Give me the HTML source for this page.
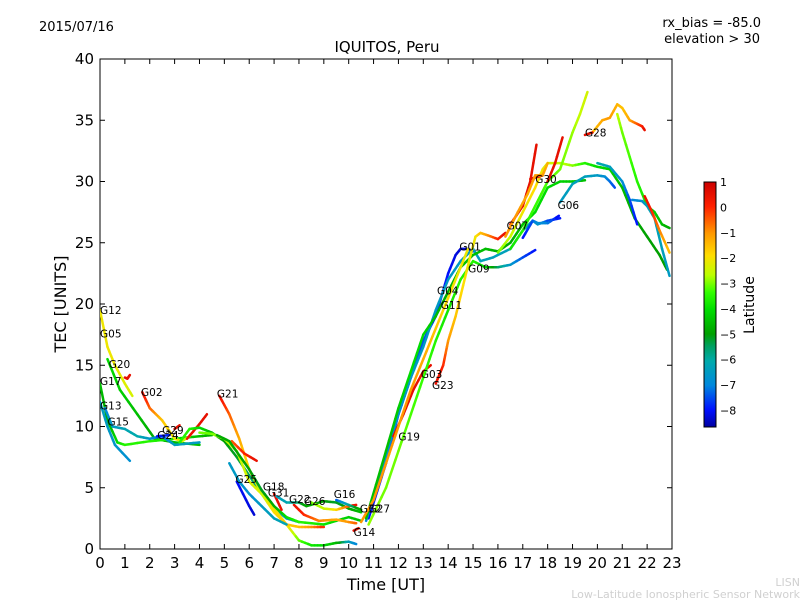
<!DOCTYPE html>
<html><head><meta charset="utf-8">
<style>
body{margin:0;background:#fff;}
svg{display:block;font-family:"DejaVu Sans","Liberation Sans",sans-serif;}
</style></head>
<body>
<svg id="chart" width="800" height="600" viewBox="0 0 800 600">
<defs>
<linearGradient id="cbgrad" x1="0" y1="1" x2="0" y2="0">
<stop offset="0" stop-color="#0000a0"/>
<stop offset="0.07" stop-color="#0010ff"/>
<stop offset="0.17" stop-color="#0088dd"/>
<stop offset="0.27" stop-color="#00aaaa"/>
<stop offset="0.33" stop-color="#00a060"/>
<stop offset="0.38" stop-color="#00a000"/>
<stop offset="0.48" stop-color="#00dd00"/>
<stop offset="0.55" stop-color="#33ff00"/>
<stop offset="0.62" stop-color="#bbff00"/>
<stop offset="0.70" stop-color="#ffdd00"/>
<stop offset="0.79" stop-color="#ff9900"/>
<stop offset="0.90" stop-color="#ff2000"/>
<stop offset="1" stop-color="#cc0000"/>
</linearGradient>
<clipPath id="plotclip"><rect x="100" y="59" width="572" height="490"/></clipPath>
</defs>
<text x="39" y="31" font-size="13">2015/07/16</text>
<text x="761" y="27" font-size="13" text-anchor="end">rx_bias = -85.0</text>
<text x="760" y="43" font-size="13" text-anchor="end">elevation &gt; 30</text>
<text x="387" y="52" font-size="15" text-anchor="middle">IQUITOS, Peru</text>
<rect x="100" y="59" width="572" height="490" fill="#fff" stroke="#000" stroke-width="1"/>
<g id="marks" clip-path="url(#plotclip)"></g>
<g id="labels"></g>
<g id="axes"></g>
<text x="386" y="590" font-size="16" text-anchor="middle">Time [UT]</text>
<text x="66" y="304" font-size="16" text-anchor="middle" transform="rotate(-90 66 304)">TEC [UNITS]</text>
<rect x="704" y="182" width="12" height="245" fill="url(#cbgrad)" stroke="#000" stroke-width="1"/>
<g id="cbticks"></g>
<text x="754" y="305" font-size="14" text-anchor="middle" transform="rotate(-90 754 305)">Latitude</text>
<text x="800" y="586" font-size="11" fill="#d0d0d0" text-anchor="end">LISN</text>
<text x="800" y="598" font-size="11" fill="#d0d0d0" text-anchor="end">Low-Latitude Ionospheric Sensor Network</text>
</svg>
<script>
const xTicks=[0,1,2,3,4,5,6,7,8,9,10,11,12,13,14,15,16,17,18,19,20,21,22,23];
const yTicks=[0,5,10,15,20,25,30,35,40];
const cbTicks=[1,0,-1,-2,-3,-4,-5,-6,-7,-8];
const seriesTimes=[
[0,0.3,0.6,1,1.3],
[0.3,0.8,1.5,2.2,3,4],
[1,1.1,1.2],
[0,0.3,0.7,1,2,3,4,4.5],
[0,0.3,0.6,1.2],
[0.2,0.5,1,1.5,2,2.5,3,3.5,4],
[1.7,2,2.5,3,3.3,3.6],
[2.3,2.8],
[3,3.2],
[3.5,4,4.3],
[3.2,3.6,4,4.5,5,5.5,6,6.5,7,7.5,8],
[4,4.5,5,5.5,6,6.5,7,7.5,8,8.5,9,9.5,10,10.3],
[4.8,5.2,5.6,6,6.5,7,7.5,8,8.5,9],
[5.3,5.8,6.3],
[4.7,5.2,6,6.5,7,7.5,8,9,10,10.5],
[5.5,6,6.2],
[5.2,5.6,6,6.5,7,7.5],
[7,7.3],
[7.1,7.5,8,8.3,9,9.5,10,10.5],
[7.8,8.2,8.8,9.5,10,10.3],
[8.5,9,9.5,10,10.3],
[9.5,10,10.5],
[10.2,10.4],
[10.8,11.5,12,12.5,13,13.5,14,14.3,14.5,14.8,15],
[10.7,11.5,12,12.5,13,13.5,14,14.5,15,15.3,15.8,16.5,17,17.4,17.6,18,18.5],
[10.7,11.5,12,12.5,13,13.5,14,14.5,15,15.5,16,16.5,17,17.5,18,18.5,19,19.5],
[11.8,12.2,12.6,13,13.3],
[10.5,11,11.5,12,12.5,13,13.5,14,14.5,14.8],
[10.8,11.5,12,12.5,13,13.5,14,14.5,15,15.5,16,16.5,17,17.5],
[13.5,13.8,14,14.3,14.6,14.9,15.1,15.3,15.6,16,16.3],
[16,16.5,17,17.5,17.8,18,18.5,19,19.5,20,20.5,21,21.5,22,22.5,22.8],
[16.5,17,17.5,18,18.5,19,19.3,19.6],
[19.8,20.2,20.5,20.8,21,21.3,21.6,21.8,21.9],
[19.5,19.8],
[20.8,21,21.3,21.6,22,22.3,22.6,22.9],
[18.5,19,19.5,20,20.3,20.5,20.7],
[20,20.5,21,21.3,21.6],
[21.4,21.8,22,22.3,22.6,22.9],
[21.9,22.2,22.5,22.9],
[17.3,17.8],
[16.5,17,17.3,17.55],
[18,18.3,18.6],
[16.3,16.8,17.2,17.5,17.8,18],
[17,17.4,17.6,18,18.45]
];
const seriesTec=[
[19.5,16.5,15,13.5,12.5],
[15.5,13,11,9,8.7,8.5],
[14,13.9,14.2],
[13.5,10.5,8.7,8.5,8.8,9,9.2,9.3],
[12,10,8.5,7.2],
[11.5,10,9.8,9.2,9,9.2,8.5,8.6,8.7],
[12.8,11.5,10.5,9,8.8,9.2],
[9.2,9.3],
[9.8,10.1],
[9,10.2,11],
[8.7,9.8,9.9,9.5,8.8,7.5,6,4.5,3.3,2.5,2.2],
[9.5,9.4,9,8,5.5,4.5,3.3,2,0.7,0.3,0.3,0.5,0.6,0.4],
[12.5,11,9,6.5,4.5,3,2,1.8,1.8,1.8],
[8.8,7.8,7.2],
[9.3,8.8,6.5,4.8,3.5,2.6,2.2,2,2.6,2.3],
[5.5,3.5,2.8],
[7,5.5,4.5,3.5,2.5,2],
[4.5,3.2],
[4.3,3.8,3.8,3.5,3.9,3.8,3.3,3],
[3.6,2.8,2.3,2.4,2.2,2.1],
[3.8,3.3,3.2,3.5,3.6],
[4,3.6,3.2],
[1.5,1.7],
[2.5,7,11,14,17,19,22.5,24,24.5,24.5,24.3],
[2.3,7.5,11,14,16.5,19.5,22,23.5,24.5,23.5,23.8,24.5,26,26.8,26.5,26.8,27],
[2.5,8,11.5,14.5,17.5,19,21,23,24,24.5,24.3,25,26.5,27.5,29.5,30,30,30.1],
[9.2,11,13,14.5,15],
[2.2,4,7,10,13,15.5,18,20.5,23,24.5],
[2,5,8,11,14,17,19.5,22,23.5,23,23,23.2,23.8,24.4],
[13.5,15,17,19,21.5,24,25.5,25.8,25.6,25.3,25.8],
[24.2,25.5,27.5,29.5,31,31.5,31.5,31.3,31.5,31.2,31,29.5,27,25.5,24,22.8],
[24.5,26,28,30,31,34,35.5,37.3],
[34,35,35.2,36.3,36,35,34.7,34.5,34.2],
[33.8,34],
[35.5,34,32,30,28,27.5,26.5,26.2],
[28.3,29.8,30.4,30.5,30.4,30,29.5],
[31.5,31.2,30,28.5,26.5],
[28.5,28.4,28,27,24.5,22.3],
[28.8,27.5,26,24.2],
[30.2,30.5],
[26.5,28,30,33],
[30,31.5,33.6],
[25.5,27.5,29,30.5,30.5,31.5],
[25.4,26.8,26.6,26.6,27.2]
];
const seriesLat=[
[-2,-2,-2,-2.2,-2.3],
[-4,-4.2,-4.5,-4.8,-4.5,-4.5],
[0.5,0.5,0.5],
[-4.5,-4.8,-4,-3.5,-3.5,-3.8,-4.5,-4.8],
[-6.3,-6.5,-6.6,-6.8],
[-7,-6.5,-6.2,-6,-6.5,-7.5,-6.3,-6.3,-6.5],
[0.5,-0.5,-1.5,-2,-2.3,-2.5],
[-8,-7.8],
[0.5,0.5],
[0.3,0.5,0.5],
[-3.5,-3.5,-4,-4.5,-5,-5.2,-5.5,-5.8,-6,-6.3,-6.5],
[-3,-3,-2.5,-2.5,-2.3,-2.2,-2,-1.8,-3,-3.8,-4,-4.5,-6.2,-7],
[0.5,-0.5,-1.2,-1.8,-2.5,-1.8,-1.5,-1.5,-1,0],
[-0.5,0,0.5],
[-4.8,-4.8,-5,-5.2,-4.8,-4,-3.5,-3.8,-4.2,-4.5],
[-8,-8.2,-8.3],
[-6.5,-6.5,-6.8,-6.5,-6.3,-6.2],
[0.5,0.4],
[-6.3,-6.2,-5.5,-4.8,-5,-5.2,-5,-4.5],
[0.5,0,-0.8,-1.2,-1,-0.5],
[-3,-2.5,-1.8,-0.5,0.5],
[-7.5,-6,-4.5],
[0.5,0.5],
[-8,-8,-7.8,-7.5,-7.5,-7.8,-8,-8.2,-8.3,-8.2,-8],
[-7,-7,-6.8,-6.5,-6.5,-6.5,-6.5,-6.5,-6.5,-6.3,-6.3,-6.3,-6.2,-6.2,-6.5,-7.5,-8],
[-4.5,-4.5,-4.3,-4,-4,-4.5,-4.8,-4.5,-4.5,-4.5,-4.8,-4.8,-4.5,-4,-4,-4.2,-4.3,-4.5],
[0.5,0.5,0.5,0.3,0.5],
[-1,-1,-1,-1,-1,-1.2,-1.5,-1.8,-2,-2],
[-2.8,-3,-3,-3.2,-3.3,-3.5,-3.8,-3.5,-3.5,-4,-5.5,-6.5,-7.5,-8],
[0.5,0,-1,-1.5,-1.8,-2,-2,-1.5,-1,0,0.5],
[-3,-2.5,-2,-1.8,-2,-2.3,-2.5,-2.8,-3.5,-4,-4.2,-4.5,-4.8,-5,-5,-5],
[-3.8,-3.5,-3.3,-3.2,-3,-2.8,-2.5,-2.3],
[-1.5,-1.2,-1,-1.3,-1.5,-1.2,-0.5,0,0.5],
[0.5,0.5],
[-2.5,-3,-3.2,-3.5,-3.8,-4.2,-4.5,-4.8],
[-6.5,-6.3,-6.3,-6.5,-6.8,-7.2,-7.5],
[-6,-6.3,-6.8,-7.5,-8],
[-7,-6.8,-6.3,-6.2,-6.3,-6.5],
[0.5,0,-0.8,-1.5],
[0.5,0.5],
[0.3,0.5,0.5,0.5],
[0.5,0.5,0.5],
[-1,-1,-1.2,-1,-1,-1.3],
[-8,-7.5,-6.8,-7,-8.2]
];
const labelNames=["G12","G05","G20","G17","G13","G15","G02","G29","G24","G21","G25","G18","G31","G22","G26","G16","G32","G27","G14","G19","G03","G23","G11","G04","G01","G09","G07","G30","G06","G28"];
const labelTimes=[0.0,0.0,0.35,0.0,0.0,0.3,1.65,2.5,2.3,4.7,5.45,6.55,6.75,7.6,8.2,9.4,10.45,10.8,10.2,12.0,12.9,13.35,13.7,13.55,14.45,14.8,16.35,17.5,18.4,19.5];
const labelTec=[19.5,17.6,15.1,13.7,11.7,10.4,12.8,9.7,9.3,12.7,5.7,5.1,4.6,4.1,3.9,4.5,3.3,3.3,1.4,9.2,14.3,13.4,19.9,21.1,24.7,22.9,26.4,30.2,28.1,34.0];

const X0=100,X1=672,Y0=549,Y1=59;
function xs(t){return X0+(t-0)/23*(X1-X0);}
function ys(v){return Y0-(v-0)/40*(Y0-Y1);}
const cstops=[[-8.65,[0,0,160]],[-8,[0,16,255]],[-7,[0,136,221]],[-6,[0,170,170]],[-5.5,[0,160,96]],[-5,[0,160,0]],[-4,[0,221,0]],[-3.3,[51,255,0]],[-2.6,[187,255,0]],[-1.8,[255,221,0]],[-1,[255,153,0]],[0,[255,32,0]],[1,[204,0,0]]];
function latColor(l){
  if(l<=cstops[0][0])return 'rgb('+cstops[0][1].join(',')+')';
  for(let i=1;i<cstops.length;i++){
    if(l<=cstops[i][0]){
      const a=cstops[i-1],b=cstops[i],f=(l-a[0])/(b[0]-a[0]);
      const c=a[1].map((v,k)=>Math.round(v+(b[1][k]-v)*f));
      return 'rgb('+c.join(',')+')';
    }
  }
  return 'rgb(204,0,0)';
}
const NS='http://www.w3.org/2000/svg';
const marks=document.getElementById('marks');
for(let s=0;s<seriesTimes.length;s++){
  const T=seriesTimes[s],V=seriesTec[s],L=seriesLat[s];
  const g=document.createElementNS(NS,'g');
  
  
  for(let i=0;i<T.length-1;i++){
    const n=4;
    for(let k=0;k<n;k++){
      const f0=k/n,f1=(k+1)/n;
      const ln=document.createElementNS(NS,'line');
      ln.setAttribute('x1',xs(T[i]+(T[i+1]-T[i])*f0));
      ln.setAttribute('y1',ys(V[i]+(V[i+1]-V[i])*f0));
      ln.setAttribute('x2',xs(T[i]+(T[i+1]-T[i])*f1));
      ln.setAttribute('y2',ys(V[i]+(V[i+1]-V[i])*f1));
      ln.setAttribute('stroke',latColor(L[i]+(L[i+1]-L[i])*(f0+f1)/2));
      ln.setAttribute('stroke-width','2.5');
      ln.setAttribute('stroke-linecap','round');
      g.appendChild(ln);
    }
  }
  marks.appendChild(g);
}
const lg=document.getElementById('labels');
for(let i=0;i<labelNames.length;i++){
  const t=document.createElementNS(NS,'text');
  
  
  t.setAttribute('x',xs(labelTimes[i]));
  t.setAttribute('y',ys(labelTec[i])+4);
  t.setAttribute('font-size','10.5');
  t.textContent=labelNames[i];
  lg.appendChild(t);
}
const ax=document.getElementById('axes');
function addLine(x1,y1,x2,y2){const l=document.createElementNS(NS,'line');l.setAttribute('x1',x1);l.setAttribute('y1',y1);l.setAttribute('x2',x2);l.setAttribute('y2',y2);l.setAttribute('stroke','#000');l.setAttribute('stroke-width','1');ax.appendChild(l);return l;}
xTicks.forEach(v=>{
  const x=xs(v);
  addLine(x,Y0,x,Y0-5);addLine(x,Y1,x,Y1+5);
  const t=document.createElementNS(NS,'text');
  
  
  t.setAttribute('x',x);t.setAttribute('y',Y0+19);t.setAttribute('font-size','15');t.setAttribute('text-anchor','middle');
  t.textContent=v;ax.appendChild(t);
});
yTicks.forEach(v=>{
  const y=ys(v);
  addLine(X0,y,X0+5,y);addLine(X1,y,X1-5,y);
  const t=document.createElementNS(NS,'text');
  
  
  t.setAttribute('x',X0-6);t.setAttribute('y',y+5);t.setAttribute('font-size','15');t.setAttribute('text-anchor','end');
  t.textContent=v;ax.appendChild(t);
});
const cb=document.getElementById('cbticks');
cbTicks.forEach(v=>{
  const y=182+(1-v)/(1-(-8.65))*245;
  const t=document.createElementNS(NS,'text');
  
  
  t.setAttribute('x',720);t.setAttribute('y',y+4);t.setAttribute('font-size','11');
  t.textContent=v<0?'\u2212'+Math.abs(v):String(v);cb.appendChild(t);
});
</script>
</body></html>
